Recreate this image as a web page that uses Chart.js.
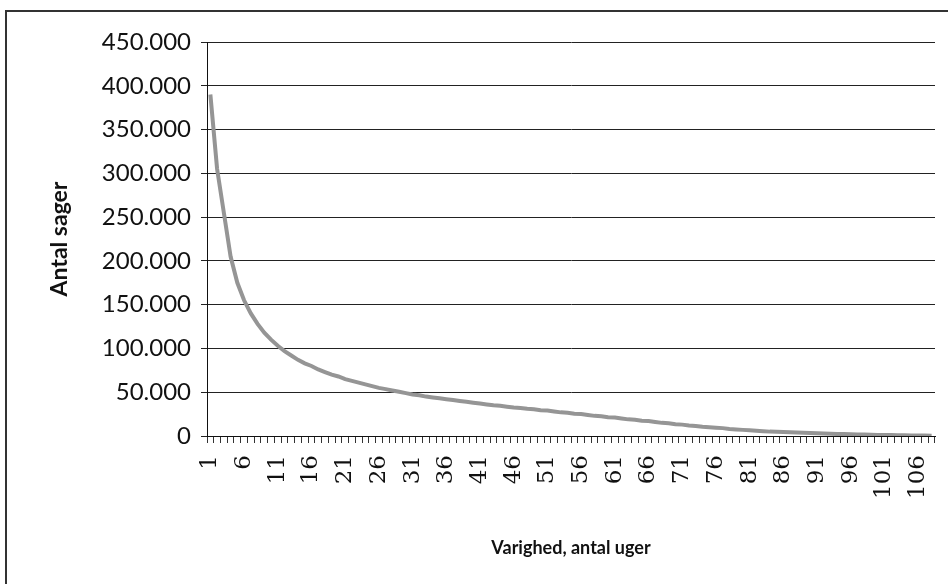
<!DOCTYPE html>
<html>
<head>
<meta charset="utf-8">
<script src="https://cdn.jsdelivr.net/npm/chart.js@4"></script>
<style>
body{margin:0;background:#fff}
</style>
</head>
<body>
<canvas id="myChart" width="948" height="584"></canvas>
<script>
const ctx = document.getElementById('myChart').getContext('2d')

// uger 1..108
const labels=[]
for(let i=1;i<=108;i++) labels.push(String(i))

// antal sager, aflæst fra kurven
const sager=[
 390000,305000,255000,205000,175000,155000,140000,128000,118000,110000,
 103000,97000,92000,87000,83000,80000,76000,73000,70000,68000,
 65000,63000,61000,59000,57000,55000,53500,52000,50500,49000,
 47500,46500,45000,44000,43000,42000,41000,40000,39000,38000,
 37000,36000,35000,34500,33500,32500,32000,31000,30500,29500,
 29000,28000,27000,26500,25500,25000,24000,23000,22500,21500,
 21000,20000,19000,18500,17500,17000,16000,15000,14500,13500,
 13000,12000,11500,10500,10000,9500,9000,8000,7500,7000,
 6500,6000,5500,5000,4800,4500,4200,4000,3600,3300,
 3000,2800,2600,2400,2200,2000,1800,1600,1400,1200,
 1100,1000,900,800,700,600,500,400
]

const yMax=450000
const yStep=50000

const frame={
    id:'frame',
    beforeDraw(chart){
        const c=chart.ctx
        c.save()
        c.fillStyle='#fff'
        c.fillRect(0,0,chart.width,chart.height)
        c.strokeStyle='#333'
        c.lineWidth=2
        c.strokeRect(6,11,2000,2000)
        c.restore()
    }
}

const myChart = new Chart(ctx, {
    type: 'line',
    data: {
        labels,
        datasets: [{
            label: 'Antal sager',
            data: sager,
            borderColor: '#959595',
            borderWidth: 4,
            pointRadius: 0,
            tension: 0,
        }]
    },
    plugins:[frame],
    options: {
        responsive:false,
        animation:false,
        layout:{padding:{top:42,right:0,left:0,bottom:0}},
        plugins:{legend:{display:false},tooltip:{enabled:false}},
        scales: {
            x: {
                offset:true,
                afterFit:s=>{s.height=148;s.paddingRight=13},
                grid:{offset:true,drawOnChartArea:false,tickLength:7,color:'#333'},
                border:{color:'#111',width:1},
                ticks:{
                    autoSkip:false,minRotation:90,maxRotation:90,padding:12,
                    color:'#111',font:{family:'DejaVu Serif',size:23},
                    callback:(v,i)=>i%5===0?labels[i]:''
                },
                title:{display:true,text:'Varighed, antal uger',color:'#111',
                    font:{family:'Lato',size:18,weight:'bold'},padding:{top:0,bottom:25}}
            },
            y: {
                min:0,max:yMax,
                afterFit:s=>{s.width=207},
                grid:{color:'#222',tickLength:6},
                border:{color:'#111',width:1},
                ticks:{stepSize:yStep,padding:10,color:'#111',
                    font:{family:'Lato',size:24},
                    callback:v=>v.toLocaleString('da-DK')},
                title:{display:true,text:'Antal sager',color:'#111',
                    font:{family:'Lato',size:23,weight:'bold'},padding:{top:46,bottom:0}}
            }
        }
    }
})
</script>
</body>
</html>
